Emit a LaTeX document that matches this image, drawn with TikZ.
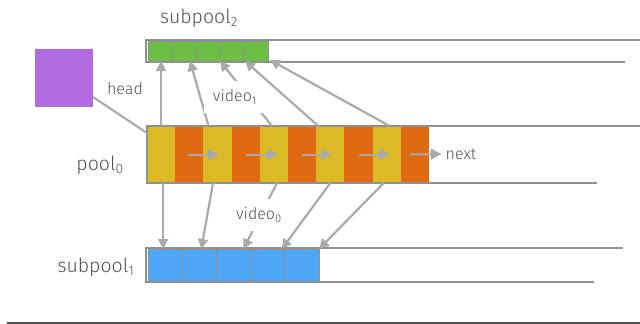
\documentclass[tikz,border=0pt]{standalone}
\usepackage{fontspec}
\setmainfont{Fira Sans}[UprightFont=* Light]
\usetikzlibrary{arrows.meta}
\definecolor{cellyellow}{HTML}{DBBA25}
\definecolor{cellorange}{HTML}{E06A12}
\definecolor{cellgreen}{HTML}{6CBE45}
\definecolor{cellblue}{HTML}{4EA6F7}
\definecolor{headpurple}{HTML}{B16BE3}
\definecolor{linkgray}{HTML}{A9ABAA}
\definecolor{framegray}{HTML}{8E9093}
\definecolor{labelgray}{HTML}{505050}

\begin{document}
\begin{tikzpicture}[
    x=1pt, y=-1pt,
    every node/.style={inner sep=0pt, outer sep=0pt, text=labelgray},
    cell/.style={anchor=north west},
    frame/.style={draw=framegray, line width=2pt},
    line/.style={draw=linkgray, line width=2.2pt},
    link/.style={line, -{Triangle[length=10pt,width=10pt]}},
    nextlink/.style={line, line width=2pt, -{Triangle[length=11pt,width=11pt]}},
    tag/.style={font=\fontsize{16}{18}\selectfont},
    title/.style={font=\fontsize{19.5}{22}\selectfont},
    videotag/.style={tag, fill=white, inner sep=9pt}
  ]
  \useasboundingbox (0,0) rectangle (640,324);

  % pool0: video entries and next pointers
  \foreach \i in {1,...,10} {
    \ifodd\i \def\cellcol{cellyellow}\else \def\cellcol{cellorange}\fi
    \node[cell, fill=\cellcol, minimum width=28.2pt, minimum height=57pt]
      (p\i) at ({147+28.2*(\i-1)},126) {};
  }
  % subpool2
  \foreach \i in {1,...,5}
    \node[cell, fill=cellgreen, draw=framegray, line width=0.8pt,
      minimum width=24pt, minimum height=20pt] (g\i) at ({148+24*(\i-1)},41) {};
  % subpool1
  \foreach \i in {1,...,5}
    \node[cell, fill=cellblue, draw=framegray, line width=0.8pt,
      minimum width=34.2pt, minimum height=32pt] (b\i) at ({148+34.2*(\i-1)},249) {};

  % open frames
  \draw[frame] (640,40) -- (146,40) -- (146,62) -- (625,62);
  \draw[frame] (640,126) -- (147,126) -- (147,183) -- (597,183);
  \draw[frame] (623,248) -- (146,248) -- (146,282) -- (594,282);

  \node[cell, fill=headpurple, minimum size=58pt] (sq) at (35,49) {};

  \node[title] (sp2) at (199,18) {subpool\textsubscript{2}};
  \node[title] (pl0) at (100,165) {pool\textsubscript{0}};
  \node[title] (sp1) at (96,267) {subpool\textsubscript{1}};
  \node[tag] (hd) at (125,89) {head};
  \node[tag] (nx) at (461,154) {next};

  \draw[line] ([yshift=10pt]sq.south east) -- ([yshift=-7pt]p1.north west);

  % next pointers
  \draw[nextlink] ([xshift=-1pt]p2.center) -- ([xshift=1.5pt]p3.center);
  \draw[nextlink] (p4.center) -- ([xshift=4pt]p5.center);
  \draw[nextlink] (p6.center) -- ([xshift=2pt]p7.center);
  \draw[nextlink] (p8.center) -- ([xshift=3pt]p9.center);
  \draw[nextlink] ([xshift=-5pt]p10.center) -- ([xshift=-4pt]nx.west);

  % up into subpool2
  \draw[link] (p1.north) -- (p1.north |- g1.south);
  \draw[link] ([xshift=-9pt]p3.north) -- ([xshift=6pt]g2.south);
  \draw[link] ([xshift=-2pt]p5.north) -- (g3.south east);
  \draw[link] ([xshift=-12pt]p7.north) -- ([xshift=1pt]g4.south east);
  \draw[link] ([xshift=3pt]p9.north) -- ([xshift=2pt,yshift=1pt]g5.south east);

  % down into subpool1
  \draw[link] ([xshift=2pt]p1.south) -- ([xshift=2pt]p1.south |- b1.north);
  \draw[link] ([xshift=-4.5pt]p3.south) -- ([xshift=2pt]b2.north);
  \draw[link] ([xshift=3pt]p5.south) -- ([xshift=10pt]b3.north);
  \draw[link] (p7.south) -- ([xshift=-3pt]b4.north east);
  \draw[link] ([xshift=-3pt]p9.south) -- (b5.north east);

  \node[videotag] (v1) at (235,97) {video\textsubscript{1}};
  \node[videotag] (v0) at (259,215) {video\textsubscript{0}};

  \draw[draw=labelgray, line width=1.5pt] (7,323) -- (640,323);
\end{tikzpicture}
\end{document}
